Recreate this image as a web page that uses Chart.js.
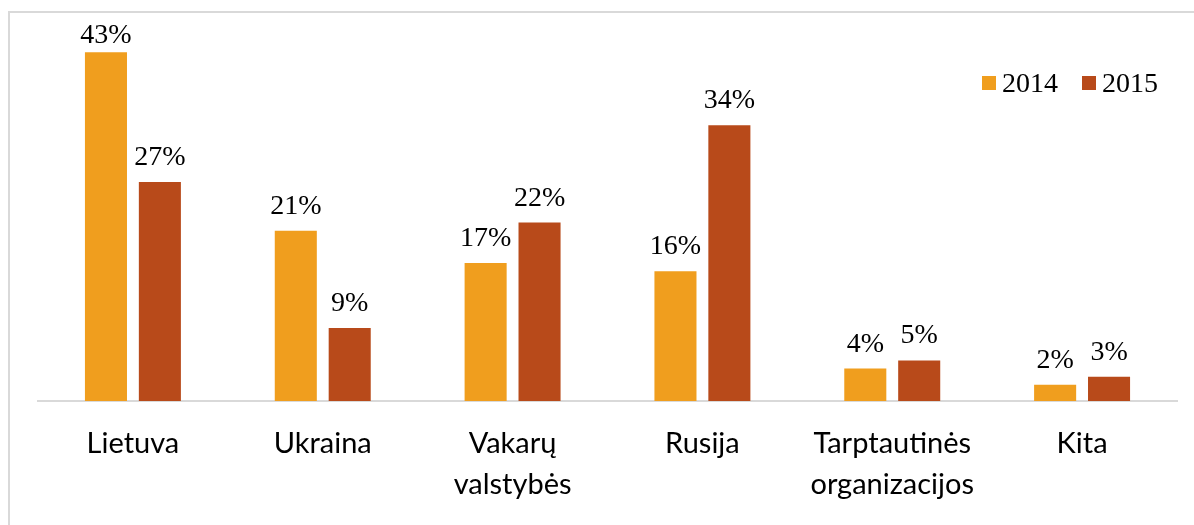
<!DOCTYPE html>
<html>
<head>
<meta charset="utf-8">
<script src="https://cdn.jsdelivr.net/npm/chart.js@4.4.1/dist/chart.umd.min.js"></script>
<style>
  html, body { margin: 0; padding: 0; background: #fff; }
  #wrap { position: relative; width: 1194px; height: 525px; overflow: hidden; }
  #frame { position: absolute; left: 8px; top: 11px; width: 1300px; height: 600px;
           border-top: 2px solid #d9d9d9; border-left: 2px solid #d9d9d9; }
  canvas { position: absolute; left: 0; top: 0; }
</style>
</head>
<body>
<div id="wrap">
  <div id="frame"></div>
  <canvas id="chart" width="1194" height="525"></canvas>
</div>
<script>
var categories = [['Lietuva'], ['Ukraina'], ['Vakarų', 'valstybės'], ['Rusija'], ['Tarptautinės', 'organizacijos'], ['Kita']];
var seriesNames = ['2014', '2015'];
var values2014 = [43, 21, 17, 16, 4, 2];
var values2015 = [27, 9, 22, 34, 5, 3];
var seriesColors = ['#F09E1E', '#B84A1A'];
var yMax = 45;

// percent labels above each bar
var valueLabels = {
  id: 'valueLabels',
  afterDatasetsDraw: function (chart) {
    var ctx = chart.ctx;
    ctx.save();
    ctx.font = '28px "Liberation Serif"';
    ctx.fillStyle = '#000';
    ctx.textAlign = 'center';
    ctx.textBaseline = 'alphabetic';
    chart.data.datasets.forEach(function (ds, i) {
      chart.getDatasetMeta(i).data.forEach(function (bar, j) {
        var y = Math.max(bar.y - 17, chart.chartArea.top + 7);
        ctx.fillText(ds.data[j] + '%', bar.x, y);
      });
    });
    ctx.restore();
  }
};

// legend in the top right corner of the plot
var cornerLegend = {
  id: 'cornerLegend',
  afterDraw: function (chart) {
    var ctx = chart.ctx;
    var box = 14, gap = 6, spacing = 24;
    ctx.save();
    ctx.font = '28px "Liberation Serif"';
    ctx.textBaseline = 'alphabetic';
    ctx.textAlign = 'left';
    var total = 0;
    chart.data.datasets.forEach(function (ds, i) {
      total += box + gap + ctx.measureText(ds.label).width;
      if (i > 0) total += spacing;
    });
    var x = chart.chartArea.right - 19 - total;
    chart.data.datasets.forEach(function (ds) {
      ctx.fillStyle = ds.backgroundColor;
      ctx.fillRect(x, 76, box, box);
      ctx.fillStyle = '#000';
      ctx.fillText(ds.label, x + box + gap, 92);
      x += box + gap + ctx.measureText(ds.label).width + spacing;
    });
    ctx.restore();
  }
};

var chart = new Chart(document.getElementById('chart').getContext('2d'), {
  type: 'bar',
  data: {
    labels: categories,
    datasets: [{
      label: seriesNames[0],
      data: values2014,
      backgroundColor: seriesColors[0]
    }, {
      label: seriesNames[1],
      data: values2015,
      backgroundColor: seriesColors[1]
    }]
  },
  options: {
    responsive: false,
    animation: false,
    devicePixelRatio: 1,
    categoryPercentage: 0.568,
    barPercentage: 0.78,
    layout: { padding: { top: 36, left: 38, right: 17, bottom: 0 } },
    plugins: {
      legend: { display: false },
      tooltip: { enabled: false }
    },
    scales: {
      x: {
        grid: { display: false, drawTicks: false },
        border: { display: true, color: '#d9d9d9', width: 2 },
        ticks: {
          color: '#000',
          font: { family: 'Lato', size: 29, lineHeight: 1.42 },
          padding: 22,
          maxRotation: 0,
          autoSkip: false
        },
        afterFit: function (scale) { scale.height = 124; }
      },
      y: {
        display: false,
        min: 0,
        max: yMax
      }
    }
  },
  plugins: [valueLabels, cornerLegend]
});
</script>
</body>
</html>
